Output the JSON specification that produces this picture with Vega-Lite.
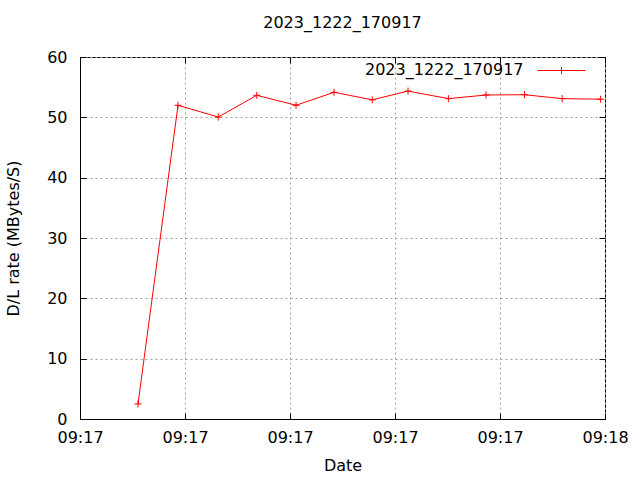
{
  "$schema": "https://vega.github.io/schema/vega-lite/v6.json",
  "width": 525,
  "height": 362,
  "autosize": {"type": "none"},
  "padding": {"left": 80, "top": 57, "right": 35, "bottom": 61},
  "background": "white",
  "title": {"text": "2023_1222_170917", "font": "DejaVu Sans", "fontSize": 16, "fontWeight": "normal", "anchor": "middle", "offset": 18, "color": "black"},
  "config": {
    "view": {"stroke": "black", "strokeWidth": 1},
    "axis": {
      "labelFont": "DejaVu Sans", "labelFontSize": 16, "labelColor": "black",
      "titleFont": "DejaVu Sans", "titleFontSize": 16, "titleFontWeight": "normal", "titleColor": "black",
      "domainColor": "black", "tickColor": "black", "tickSize": -6,
      "labelFlush": false, "labelOverlap": false,
      "gridColor": "#a0a0a0", "gridDash": [2, 3], "gridWidth": 1
    },
    "legend": {"titleFont": "DejaVu Sans", "titleFontSize": 16, "titleFontWeight": "normal", "titleColor": "black"}
  },
  "data": {"values": [
    {"t": 6.63, "rate": 2.5, "series": "2023_1222_170917"},
    {"t": 11.2, "rate": 52.0, "series": "2023_1222_170917"},
    {"t": 15.8, "rate": 50.05, "series": "2023_1222_170917"},
    {"t": 20.2, "rate": 53.65, "series": "2023_1222_170917"},
    {"t": 24.69, "rate": 52.0, "series": "2023_1222_170917"},
    {"t": 29.03, "rate": 54.15, "series": "2023_1222_170917"},
    {"t": 33.4, "rate": 52.9, "series": "2023_1222_170917"},
    {"t": 37.49, "rate": 54.35, "series": "2023_1222_170917"},
    {"t": 42.1, "rate": 53.1, "series": "2023_1222_170917"},
    {"t": 46.4, "rate": 53.7, "series": "2023_1222_170917"},
    {"t": 50.8, "rate": 53.75, "series": "2023_1222_170917"},
    {"t": 55.1, "rate": 53.1, "series": "2023_1222_170917"},
    {"t": 59.5, "rate": 53.0, "series": "2023_1222_170917"}
  ]},
  "resolve": {"scale": {"x": "independent", "y": "independent"}, "axis": {"x": "independent", "y": "independent"}},
  "layer": [
    {
      "layer": [
        {
          "mark": {"type": "line", "strokeWidth": 1},
          "encoding": {
            "x": {"field": "t", "type": "quantitative", "scale": {"domain": [0, 60], "nice": false, "zero": false},
              "axis": {"values": [0, 12, 24, 36, 48, 60], "labelExpr": "datum.value < 60 ? '09:17' : '09:18'", "title": "Date", "labelPadding": 16, "titlePadding": 12, "grid": true}},
            "y": {"field": "rate", "type": "quantitative", "scale": {"domain": [0, 60], "nice": false},
              "axis": {"values": [0, 10, 20, 30, 40, 50, 60], "title": "D/L rate (MBytes/S)", "labelPadding": 19, "titlePadding": 25, "grid": true}},
            "color": {"field": "series", "type": "nominal", "scale": {"range": ["red"]},
              "legend": {"orient": "none", "legendX": 285, "legendY": 7, "titleOrient": "left", "titleAngle": 0, "titleBaseline": "middle", "titlePadding": 31, "labelExpr": "''", "labelOffset": 0, "padding": 0,
                "symbolType": "M-4,0H4M0,-0.6V0.6", "symbolSize": 144, "symbolStrokeWidth": 1, "title": "2023_1222_170917"}}
          }
        },
        {
          "mark": {"type": "point", "shape": "M-1,0H1M0,-1V1", "filled": false, "strokeWidth": 1, "size": 49, "color": "red", "opacity": 1},
          "encoding": {
            "x": {"field": "t", "type": "quantitative"},
            "y": {"field": "rate", "type": "quantitative"}
          }
        }
      ]
    },
    {
      "mark": {"type": "point", "opacity": 0},
      "encoding": {
        "x": {"field": "t", "type": "quantitative", "scale": {"domain": [0, 60], "nice": false, "zero": false},
          "axis": {"orient": "top", "values": [0, 12, 24, 36, 48, 60], "labels": false, "title": null, "grid": false, "domain": false}},
        "y": {"field": "rate", "type": "quantitative", "scale": {"domain": [0, 60], "nice": false},
          "axis": {"orient": "right", "values": [0, 10, 20, 30, 40, 50, 60], "labels": false, "title": null, "grid": false, "domain": false}}
      }
    }
  ]
}
